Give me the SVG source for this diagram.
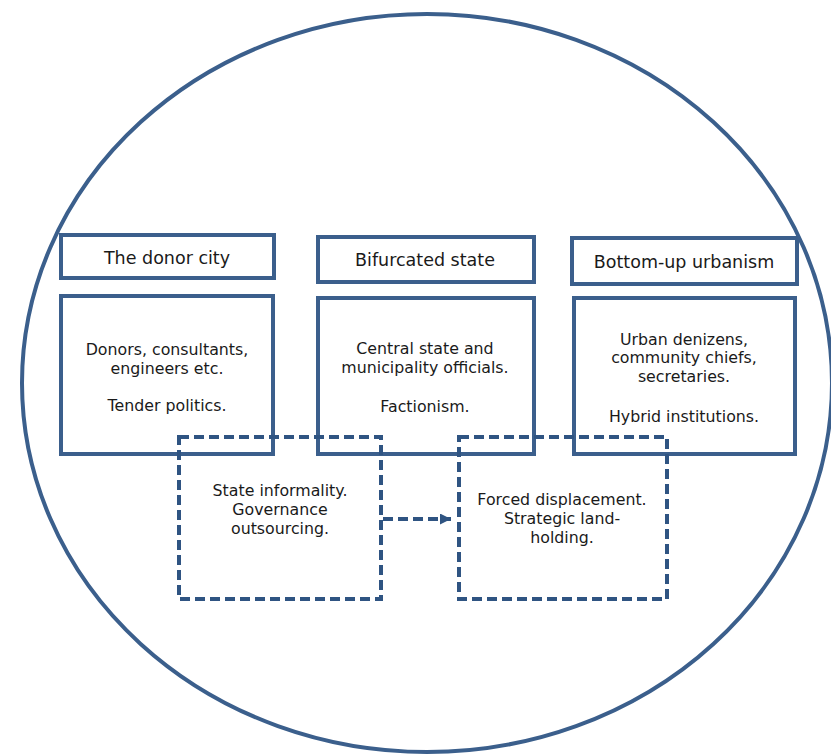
<svg xmlns="http://www.w3.org/2000/svg" width="831" height="754" viewBox="0 0 831 754">
<style>
.frame{fill:none;stroke:#3b5f8c;stroke-width:4}
.box{fill:none;stroke:#3b5f8c;stroke-width:4}
.dash{fill:none;stroke:#2f5482;stroke-width:4;stroke-dasharray:10 5}
.t{font-family:"DejaVu Sans",Verdana,sans-serif;fill:#1a1a1a;text-anchor:middle}
.title{font-size:17.5px}
.body{font-size:15.8px}
</style>
<defs>
<marker id="ah" viewBox="0 0 10 10" refX="10" refY="5" markerWidth="11" markerHeight="11" markerUnits="userSpaceOnUse" orient="auto">
<path d="M0,0 L10,5 L0,10 z" fill="#2f5482"/>
</marker>
</defs>
<rect width="831" height="754" fill="#ffffff"/>
<ellipse id="frame" class="frame" cx="427" cy="383" rx="405" ry="369"/>
<g id="donor-title"><rect class="box" x="61" y="235" width="213" height="43"/><text class="t title" x="167" y="264">The donor city</text></g>
<g id="donor-body"><rect class="box" x="61" y="296" width="212" height="158"/>
<text class="t body" x="167" y="355">Donors, consultants,</text>
<text class="t body" x="167" y="374">engineers etc.</text>
<text class="t body" x="167" y="411">Tender politics.</text></g>
<g id="state-title"><rect class="box" x="318" y="237" width="216" height="45"/><text class="t title" x="425" y="266">Bifurcated state</text></g>
<g id="state-body"><rect class="box" x="318" y="298" width="216" height="156"/>
<text class="t body" x="425" y="354">Central state and</text>
<text class="t body" x="425" y="373">municipality officials.</text>
<text class="t body" x="425" y="412">Factionism.</text></g>
<g id="bottom-title"><rect class="box" x="572" y="238" width="225" height="46"/><text class="t title" x="684" y="268">Bottom-up urbanism</text></g>
<g id="bottom-body"><rect class="box" x="574" y="298" width="221" height="156"/>
<text class="t body" x="684" y="345">Urban denizens,</text>
<text class="t body" x="684" y="363">community chiefs,</text>
<text class="t body" x="684" y="382">secretaries.</text>
<text class="t body" x="684" y="422">Hybrid institutions.</text></g>
<g id="informality"><rect class="dash" x="179" y="437" width="202" height="162"/>
<text class="t body" x="280" y="496">State informality.</text>
<text class="t body" x="280" y="515">Governance</text>
<text class="t body" x="280" y="534">outsourcing.</text></g>
<g id="displacement"><rect class="dash" x="459" y="437" width="208" height="162"/>
<text class="t body" x="562" y="505">Forced displacement.</text>
<text class="t body" x="562" y="524">Strategic land-</text>
<text class="t body" x="562" y="543">holding.</text></g>
<g id="connectors"><line class="dash" x1="383" y1="519" x2="451" y2="519" stroke-dasharray="10 6" marker-end="url(#ah)"/></g>
</svg>
